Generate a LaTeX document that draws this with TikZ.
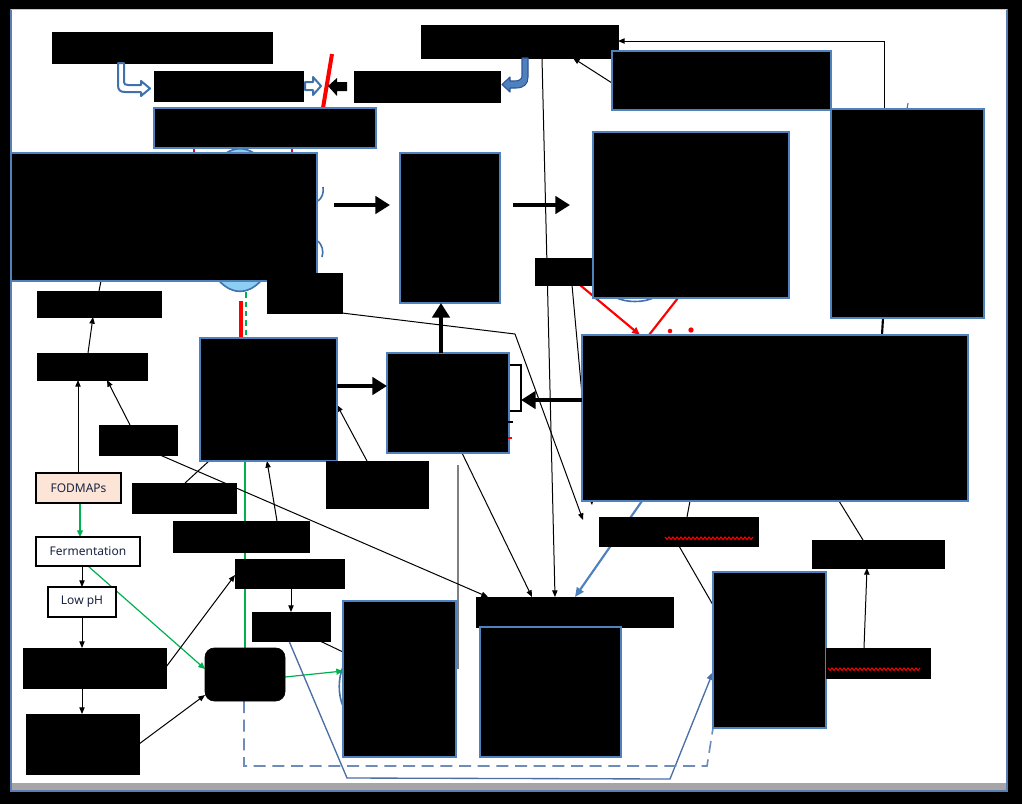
\documentclass[tikz,border=0pt]{standalone}
\usepackage{fontspec}
\setmainfont{Noto Sans}
\usetikzlibrary{arrows.meta,calc}
\pgfdeclarelayer{bottom}
\pgfdeclarelayer{back}
\pgfsetlayers{bottom,back,main}
\definecolor{boxblue}{RGB}{79,129,189}
\definecolor{darkblue}{RGB}{47,85,151}
\definecolor{hollowblue}{RGB}{65,113,170}
\definecolor{cellblue}{RGB}{140,205,242}
\definecolor{linkblue}{RGB}{74,110,165}
\definecolor{dashblue}{RGB}{110,140,185}
\definecolor{gogreen}{RGB}{0,176,80}
\definecolor{peach}{RGB}{252,228,214}
\definecolor{txt}{RGB}{25,35,65}
\definecolor{barg}{RGB}{165,165,165}
\definecolor{frameblue}{RGB}{90,125,180}
\definecolor{greyline}{RGB}{128,128,128}
\newcommand{\mkbox}[7]{\node[#2,minimum width={(#5-#3)*0.75pt},minimum height={(#6-#4)*0.75pt}] (#1) at ({(#3+#5)/2},{(#4+#6)/2}) {#7};}
\begin{document}
\begin{tikzpicture}[x=0.75pt,y=-0.75pt,
  blk/.style={fill=black,draw=black,line width=0.5pt,inner sep=0pt,outer sep=0pt},
  bbk/.style={fill=black,draw=boxblue,line width=1.1pt,inner sep=0pt,outer sep=0pt},
  rbk/.style={fill=black,draw=black,line width=0.5pt,rounded corners=7pt,inner sep=0pt,outer sep=0pt},
  wbox/.style={fill=white,draw=black,line width=0.8pt,inner sep=0pt,outer sep=0pt},
  tbox/.style={draw=black,line width=0.9pt,inner sep=0pt,outer sep=0pt,text=txt,font=\fontsize{9}{10}\selectfont},
  arr/.style={draw=black,line width=0.75pt,-{Triangle[length=5pt,width=4pt]}},
  ln/.style={draw=black,line width=0.75pt},
  fat/.style={draw=black,line width=3.5pt,-{Triangle[length=11pt,width=13pt]}},
  garr/.style={draw=gogreen,line width=0.9pt,-{Triangle[length=5pt,width=4.5pt]}},
  wavy/.style={red,line width=0.8pt},
]
\useasboundingbox (0,0) rectangle (1022,804);

% ---- boxes ----
\mkbox{b1}{blk}{52}{32}{272}{63}{}
\mkbox{b2}{blk}{154}{71}{303}{101}{}
\mkbox{b3}{blk}{354}{71}{500}{102}{}
\mkbox{b4}{blk}{421}{25}{618}{58}{}
\mkbox{b5}{bbk}{154}{108}{376}{148}{}
\mkbox{b6}{bbk}{11}{153}{317}{281}{}
\mkbox{b7}{bbk}{400}{153}{500}{303}{}
\mkbox{b11}{blk}{535}{258}{594}{285}{}
\mkbox{b8}{bbk}{593}{132}{789}{298}{}
\mkbox{b9}{bbk}{612}{51}{831}{110}{}
\mkbox{b10}{bbk}{831}{109}{984}{318}{}
\mkbox{b12}{bbk}{582}{335}{968}{501}{}
\mkbox{brk}{wbox}{500}{365}{521}{411}{}
\mkbox{b13}{bbk}{387}{353}{509}{453}{}
\mkbox{b14}{bbk}{200}{338}{337}{461}{}
\mkbox{b15}{blk}{37}{291}{161}{317}{}
\mkbox{b16}{blk}{37}{353}{147}{380}{}
\mkbox{b17}{blk}{99}{425}{177}{455}{}
\mkbox{b18}{blk}{132}{483}{236}{513}{}
\mkbox{b19}{rbk}{205}{648}{285}{701}{}
\mkbox{b20}{blk}{23}{648}{166}{688}{}
\mkbox{b21}{blk}{26}{714}{139}{774}{}
\mkbox{b22}{blk}{235}{559}{344}{588}{}
\mkbox{b23}{bbk}{343}{601}{456}{757}{}
\mkbox{b24}{blk}{173}{521}{309}{552}{}
\mkbox{b25}{blk}{252}{612}{330}{641}{}
\mkbox{b26}{bbk}{713}{572}{826}{728}{}
\mkbox{b27}{blk}{476}{597}{673}{627}{}
\mkbox{b28}{bbk}{480}{627}{621}{757}{}
\mkbox{b29}{blk}{599}{517}{758}{546}{}
\mkbox{b30}{blk}{812}{540}{944}{568}{}
\mkbox{b31}{blk}{826}{648}{930}{678}{}
\mkbox{b32}{blk}{267}{273}{342}{313}{}
\mkbox{b33}{blk}{326}{461}{428}{508}{}
\mkbox{fod}{tbox,fill=peach}{36}{473}{121}{503}{FODMAPs}
\mkbox{ferm}{tbox,fill=white}{36}{537}{140}{566}{Fermentation}
\mkbox{lowph}{tbox,fill=white}{48}{587}{116}{617}{Low pH}
\coordinate (e24) at (583,520);
\coordinate (e25) at (592,505);

% ---- frame and hidden shapes ----
\begin{pgfonlayer}{bottom}
\fill[black] (0,0) rectangle (1022,804);
\fill[white] (10,9) rectangle (1007,792);
\fill[barg] (11,783) rectangle (1006,791);
\draw[frameblue,line width=1.1pt] (11,9) -- (11,791) -- (1007,791) -- (1007,9);
\draw[frameblue!40,line width=0.6pt] (11,9.5) -- (1007,9.5);
\draw[gogreen,line width=0.9pt,dash pattern=on 4pt off 3pt] (246,283) -- (246,338);
\fill[cellblue,draw=hollowblue,line width=1.2pt] (240,220) ellipse [x radius=30pt,y radius=53.5pt];
\draw[hollowblue,line width=1.2pt] (318,201) .. controls (322,198) and (324,193) .. (323,187);
\draw[hollowblue,line width=1.2pt] (318,241) .. controls (322,245) and (324,251) .. (322,257);
\draw[hollowblue,line width=1.2pt] (615,297) .. controls (625,303) and (645,303) .. (655,297);
\draw[hollowblue,line width=1.2pt] (343,667) .. controls (338,678) and (338,695) .. (343,706);
\draw[hollowblue,line width=0.8pt] (908,103) -- (907,109);
\draw[red,line width=0.8pt] (194,147) -- (194,154);
\draw[red,line width=0.8pt] (292,147) -- (292,154);
\draw[red,line width=3pt] (241,301) -- (241,338);
\draw[gogreen,line width=1pt] (245,461) -- (245,648);
\draw[red,line width=3pt] (332,54) -- (323,108);
\draw[greyline,line width=1.6pt] (458,465) -- (458,669);
\end{pgfonlayer}

% ---- connectors ----
\begin{pgfonlayer}{back}
\draw[arr] (884,0 |- b10.north) |- (b4.east |- 0,41);
\draw[arr] (b9.west |- 0,83) -- (573,0 |- b4.south);
\draw[arr] (542,0 |- b4.south) -- (555,0 |- b27.north);
\draw[ln] (101,0 |- b6.south) -- (99,0 |- b15.north);
\draw[arr] (88,0 |- b16.north) -- (93,0 |- b15.south);
\draw[arr] (78,0 |- fod.north) -- (78,0 |- b16.south);
\draw[arr] (130,0 |- b17.north) -- (107,0 |- b16.south);
\draw[arr] (160,0 |- b17.south) -- (488,0 |- b27.north);
\draw[ln] (185,0 |- b18.north) -- (209,0 |- b14.south);
\draw[garr] (80,0 |- fod.south) -- (80,0 |- ferm.north);
\draw[arr] (82,0 |- ferm.south) -- (82,0 |- lowph.north);
\draw[garr] (88,0 |- ferm.south) -- (b19.west |- 0,669);
\draw[arr] (82,0 |- lowph.south) -- (82,0 |- b20.north);
\draw[arr] (82,0 |- b20.south) -- (82,0 |- b21.north);
\draw[arr] (b21.east |- 0,744) -- (b19.west |- 0,695);
\draw[arr] (b20.east |- 0,667) -- (b22.west |- 0,575);
\draw[garr] (b19.east |- 0,677) -- (b23.west |- 0,671);
\draw[arr] (277,0 |- b24.north) -- (267,0 |- b14.south);
\draw[arr] (291,0 |- b22.south) -- (291,0 |- b25.north);
\draw[ln] (320,0 |- b25.south) -- (b23.west |- 0,652);
\draw[linkblue,line width=1pt,-{Triangle[length=6pt,width=5pt]}] (289,0 |- b25.south) -- (347,778) -- (670,779) -- (b26.west |- 0,672);
\draw[dashblue,line width=1.2pt,dash pattern=on 9pt off 5pt] (244,0 |- b19.south) -- (244,766) -- (707,766) -- (713,0 |- b26.south);
\draw[arr] (367,0 |- b33.north) -- (b14.east |- 0,405);
\draw[arr] (b32.east |- 0,313) -- (515,334) -- (e24);
\draw[arr] (572,0 |- b11.south) -- (e25);
\draw[arr] (462,0 |- b13.south) -- (532,0 |- b27.north);
\draw[boxblue,line width=1.6pt,-{Triangle[length=7pt,width=6pt]}] (642,0 |- b12.south) -- (575,0 |- b27.north);
\draw[ln] (690,0 |- b12.south) -- (687,0 |- b29.north);
\draw[ln] (679,0 |- b29.south) -- (b26.west |- 0,605);
\draw[ln] (839,0 |- b12.south) -- (863,0 |- b30.north);
\draw[arr] (864,0 |- b31.north) -- (867,0 |- b30.south);
\draw[black,line width=1.6pt] (883,0 |- b10.south) -- (882,0 |- b12.north);
\draw[red,line width=1.6pt,-{Triangle[length=6pt,width=5pt]}] (580,0 |- b11.south) -- (640,0 |- b12.north);
\draw[red,line width=1.6pt] (678,0 |- b8.south) -- (649,0 |- b12.north);
\fill[red] (670,331) circle[radius=1.7pt];
\fill[red] (691,330) circle[radius=2pt];
\end{pgfonlayer}

% red wavy underlines
\draw[wavy] (665,537) \foreach \i in {0,...,21} { -- ++(2,2.5) -- ++(2,-2.5)};
\draw[wavy] (828,668) \foreach \i in {0,...,22} { -- ++(2,2.5) -- ++(2,-2.5)};

% small marks near bracket
\draw[black,line width=1.5pt] (508,422) -- (513,422);
\draw[red,line width=1.5pt] (508,438) -- (512,438);

% ---- thick arrows ----
\draw[fat] ($(b6.east |- 0,205)+(17,0)$) -- ($(b7.west |- 0,205)+(-10,0)$);
\draw[fat] ($(b7.east |- 0,205)+(13,0)$) -- ($(b8.west |- 0,205)+(-23,0)$);
\draw[fat] (b14.east |- 0,386) -- (b13.west |- 0,386);
\draw[fat] (441,0 |- b13.north) -- (441,0 |- b7.south);
\draw[fat] (b12.west |- 0,400) -- (brk.east |- 0,400);

% ---- hollow / block arrows at top ----
\draw[hollowblue,fill=white,line width=1.5pt,line join=round]
  (118,63) -- (118,85) .. controls (118,90) and (120,92) .. (125,92) -- (141,92) -- (141,96) -- (150,88.5) -- (141,81) -- (141,85) -- (128,85) .. controls (125,85) and (124,84) .. (124,82) -- (124,63) -- cycle;
\draw[hollowblue,fill=white,line width=1.5pt,line join=round]
  (305,82) -- (313,82) -- (313,77) -- (321,86) -- (313,95) -- (313,90) -- (305,90) -- cycle;
\fill[black] (328,86) -- (337,78) -- (337,82) -- (347,82) -- (347,91) -- (337,91) -- (337,96) -- cycle;
\draw[darkblue,fill=boxblue,line width=0.8pt,line join=round]
  (522,58) -- (522,76) .. controls (522,79) and (519,81) .. (515,81) -- (510,81) -- (510,77) -- (502,84.5) -- (510,92) -- (510,88) -- (516,88) .. controls (524,88) and (528,84) .. (528,77) -- (528,58) -- cycle;
\end{tikzpicture}
\end{document}
